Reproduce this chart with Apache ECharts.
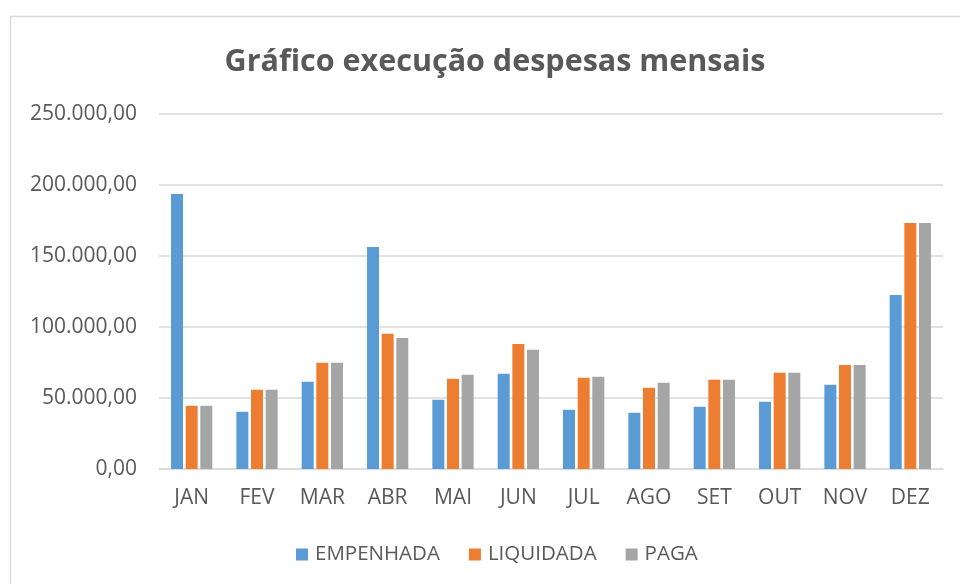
<!DOCTYPE html>
<html>
<head>
<meta charset="utf-8">
<script src="https://cdn.jsdelivr.net/npm/echarts@6/dist/echarts.min.js"></script>
<style>html,body{margin:0;padding:0;background:#fff}#c{width:960px;height:584px}</style>
</head>
<body>
<div id="c"></div>
<script>
const categories = ['JAN','FEV','MAR','ABR','MAI','JUN','JUL','AGO','SET','OUT','NOV','DEZ'];
const empenhada = [193600, 40300, 61400, 156300, 48700, 67000, 41700, 39600, 43800, 47300, 59300, 122600];
const liquidada = [44500, 55800, 74800, 95200, 63500, 88100, 64200, 57200, 62800, 67700, 73300, 173200];
const paga = [44500, 55800, 74800, 92300, 66300, 83900, 64900, 60700, 62800, 67700, 73300, 173200];
const seriesNames = ['EMPENHADA', 'LIQUIDADA', 'PAGA'];
const titleText = 'Gráfico execução despesas mensais';

function fmt(v) {
  const s = Math.round(v).toString().replace(/\B(?=(\d{3})+(?!\d))/g, '.');
  return s + ',00';
}
const FONT = '"Open Sans", "Noto Sans", sans-serif';
const chart = echarts.init(document.getElementById('c'), null, {renderer: 'canvas'});
const colors = ['#5B9BD5', '#ED7D31', '#A5A5A5'];
chart.setOption({
  animation: false,
  color: colors,
  graphic: [{
    type: 'rect', left: 8, top: 14, silent: true,
    shape: {width: 960, height: 580},
    style: {fill: 'none', stroke: '#d9d9d9', lineWidth: 1.5}
  }],
  title: {
    text: titleText, left: 490, textAlign: 'center', top: 42,
    textStyle: {fontFamily: FONT, fontSize: 30.5, fontWeight: 'bold', color: '#595959'}
  },
  legend: {
    data: seriesNames, bottom: 14, left: 291,
    itemWidth: 12, itemHeight: 12, itemGap: 29, icon: 'rect',
    textStyle: {fontFamily: FONT, fontSize: 20.5, color: '#595959', padding: [0, 0, 0, 2]}
  },
  grid: {left: 159, right: 17, top: 114, bottom: 115, containLabel: false},
  xAxis: {
    type: 'category', data: categories,
    axisLine: {lineStyle: {color: '#d9d9d9', width: 1.5}},
    axisTick: {show: false},
    axisLabel: {fontFamily: FONT, fontSize: 21, color: '#595959', margin: 19}
  },
  yAxis: {
    type: 'value', min: 0, max: 250000, interval: 50000,
    axisLine: {show: false}, axisTick: {show: false},
    splitLine: {lineStyle: {color: '#d9d9d9', width: 1.5}},
    axisLabel: {fontFamily: FONT, fontSize: 21, color: '#595959', margin: 22, formatter: fmt}
  },
  series: [
    {name: seriesNames[0], type: 'bar', data: empenhada, barWidth: 12, barGap: '22%'},
    {name: seriesNames[1], type: 'bar', data: liquidada, barWidth: 12, barGap: '22%'},
    {name: seriesNames[2], type: 'bar', data: paga, barWidth: 12, barGap: '22%'}
  ]
});
</script>
</body>
</html>
